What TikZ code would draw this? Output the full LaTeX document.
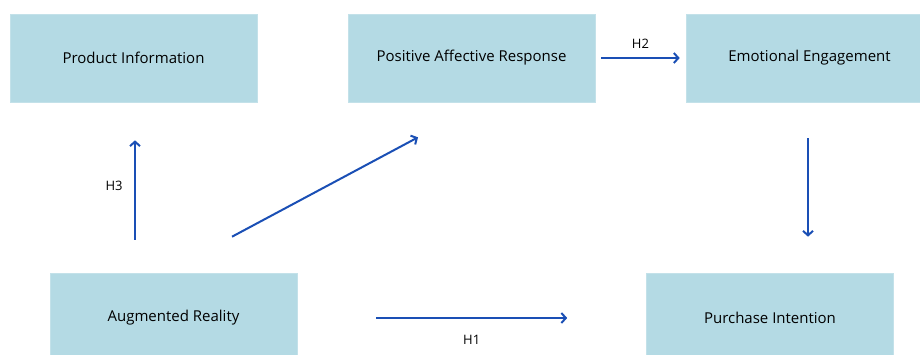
\documentclass[tikz,border=0pt]{standalone}
\usepackage{fontspec}
\setmainfont{Open Sans}
\usepackage{tikz}
\usetikzlibrary{arrows.meta, positioning}
\definecolor{boxblue}{HTML}{B4DAE4}
\definecolor{linkblue}{HTML}{1A4FB5}

\begin{document}
\begin{tikzpicture}[x=1pt, y=-1pt, >={Straight Barb[length=4.5pt,width=10pt]},
    factor/.style={fill=boxblue, draw=boxblue!80!white, line width=0.6pt,
      minimum width=247pt, minimum height=86pt, inner sep=0pt,
      font=\fontsize{15}{17}\selectfont},
    link/.style={->, draw=linkblue, line width=2pt},
    hyp/.style={font=\fontsize{13}{15}\selectfont}]
    \useasboundingbox (0,0) rectangle (920,354);

    \node[factor, minimum height=88pt] (prodinfo) at (133.5,58) {Product Information};
    \node[factor, minimum height=88pt] (posaff) at (471.5,58) {Positive Affective Response};
    \node[factor, minimum height=88pt] (emoeng) at (809.5,58) {Emotional Engagement};
    \node[factor, minimum height=90pt] (augreal) at (173.5,318) {Augmented Reality};
    \node[factor, minimum height=90pt] (purint) at (770,318) {Purchase Intention};

    \draw[link] ([xshift=-38.5pt, yshift=33pt]augreal.north)
      -- ([xshift=1.5pt, yshift=-38pt]prodinfo.south)
      node[pos=0.54, left=8pt, hyp] {H3};
    \draw[link] ([xshift=58.5pt, yshift=36pt]augreal.north)
      -- ([xshift=-53.5pt, yshift=-35pt]posaff.south);
    \draw[link, shorten <=6pt, shorten >=6pt] (posaff.east) -- (emoeng.west)
      node[midway, above=5pt, hyp] {H2};
    \draw[link] ([xshift=-1.5pt, yshift=-36pt]emoeng.south)
      -- ([xshift=38pt, yshift=36pt]purint.north);
    \draw[link] ([xshift=79pt]augreal.east)
      -- ([xshift=-79pt]purint.west)
      node[midway, below=13pt, hyp] {H1};
\end{tikzpicture}
\end{document}
